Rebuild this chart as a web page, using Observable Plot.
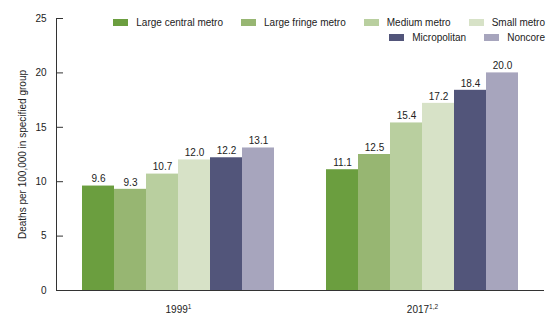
<!DOCTYPE html>
<html>
<head>
<meta charset="utf-8">
<script src="https://cdn.jsdelivr.net/npm/d3@7"></script>
<script src="https://cdn.jsdelivr.net/npm/@observablehq/plot@0.6"></script>
<style>
  body { margin: 0; background: #fff; }
  #wrap { position: relative; width: 560px; height: 323px; font-family: "Liberation Sans", Arial, sans-serif; }
  #legend { position: absolute; top: 15px; right: 15px; width: 460px; font-size: 10px; color: #222; }
  .row { display: flex; justify-content: flex-end; gap: 18px; height: 15px; align-items: center; }
  .item { display: flex; align-items: center; }
  .sw { width: 15px; height: 7px; margin-right: 8px; }
  #chart { position: absolute; left: 0; top: 0; }
</style>
</head>
<body>
<div id="wrap">
  <div id="chart"></div>
  <div id="legend"></div>
</div>
<script>
const categories = ["Large central metro", "Large fringe metro", "Medium metro", "Small metro", "Micropolitan", "Noncore"];
const colors = ["#6b9e3f", "#97b672", "#b9cf9f", "#d7e2c7", "#52557a", "#a7a5bd"];
const years = ["1999", "2017"];
const yearNotes = ["1", "1,2"];
const values1999 = [9.6, 9.3, 10.7, 12.0, 12.2, 13.1];
const values2017 = [11.1, 12.5, 15.4, 17.2, 18.4, 20.0];
const yTicks = [0, 5, 10, 15, 20, 25];
const yLabel = "Deaths per 100,000 in specified group";
const legendRows = [categories.slice(0, 4), categories.slice(4)];

const data = [];
categories.forEach((c, i) => {
  data.push({year: years[0], cat: c, value: values1999[i]});
  data.push({year: years[1], cat: c, value: values2017[i]});
});

const axisColor = "#333";
const textColor = "#222";
const plot = Plot.plot({
  width: 560, height: 323,
  marginLeft: 56, marginRight: 16, marginTop: 18, marginBottom: 33,
  style: {fontFamily: "Liberation Sans, Arial, sans-serif", fontSize: "10px", color: textColor, background: "transparent"},
  fx: {domain: years, paddingInner: 0, paddingOuter: 0, label: null, axis: null},
  x: {domain: categories, paddingInner: 0, paddingOuter: 0.735, align: 0.5, axis: null},
  y: {domain: [0, 25], axis: null},
  color: {domain: categories, range: colors},
  marks: [
    Plot.barY(data, {fx: "year", x: "cat", y: "value", fill: "cat"}),
    Plot.text(data, {fx: "year", x: "cat", y: "value", text: d => d.value.toFixed(1), dy: -7, fill: textColor, fontSize: 10}),
    Plot.frame({anchor: "left", facetAnchor: "left", stroke: axisColor}),
    Plot.ruleY([0], {stroke: axisColor}),
    // inward tick marks
    Plot.axisY({ticks: yTicks, tickSize: 7, dx: 7, tickFormat: () => "", stroke: axisColor, label: null}),
    // tick labels and axis title
    Plot.axisY({ticks: yTicks, tickSize: 0, tickPadding: 10, label: yLabel, labelAnchor: "center", labelOffset: 38, labelArrow: "none", fill: textColor}),
    Plot.axisFx({anchor: "bottom", tickSize: 0, tickPadding: 15, label: null, fill: textColor})
  ]
});
document.getElementById("chart").appendChild(plot);

// superscript footnote markers on the year labels
d3.select(plot).selectAll('g[aria-label="fx-axis tick label"] text').each(function() {
  const t = d3.select(this);
  const yr = t.text().trim();
  const idx = years.indexOf(yr);
  if (idx >= 0) {
    t.append("tspan").attr("dy", "-0.5em").attr("font-size", "6.5px").text(yearNotes[idx]);
  }
});

// legend
const leg = document.getElementById("legend");
legendRows.forEach(row => {
  const r = document.createElement("div");
  r.className = "row";
  row.forEach(c => {
    const it = document.createElement("div");
    it.className = "item";
    const sw = document.createElement("div");
    sw.className = "sw";
    sw.style.background = colors[categories.indexOf(c)];
    const lab = document.createElement("span");
    lab.textContent = c;
    it.appendChild(sw); it.appendChild(lab);
    r.appendChild(it);
  });
  leg.appendChild(r);
});
</script>
</body>
</html>
